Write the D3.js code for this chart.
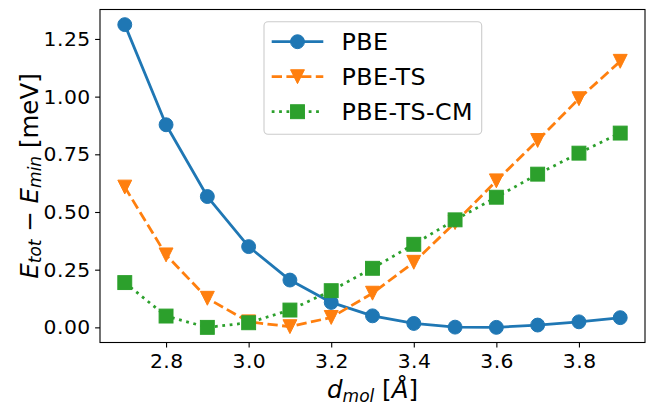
<!DOCTYPE html>
<html>
<head>
<meta charset="utf-8">
<script src="https://cdn.jsdelivr.net/npm/d3@7"></script>
<style>
  html, body { margin: 0; padding: 0; background: #fff; }
  svg { display: block; font-family: "DejaVu Sans", sans-serif; }
  .tick text { font-family: "DejaVu Sans", sans-serif; }
</style>
</head>
<body>
<svg id="chart" width="649" height="410"></svg>
<script>
const distances = [2.7, 2.8, 2.9, 3.0, 3.1, 3.2, 3.3, 3.4, 3.5, 3.6, 3.7, 3.8, 3.9];
const pbe       = [1.312, 0.878, 0.567, 0.350, 0.205, 0.108, 0.050, 0.017, 0.001, 0.000, 0.010, 0.024, 0.042];
const pbeTS     = [0.608, 0.314, 0.126, 0.024, 0.003, 0.043, 0.148, 0.282, 0.454, 0.635, 0.810, 0.991, 1.153];
const pbeTSCM   = [0.194, 0.049, 0.000, 0.020, 0.075, 0.159, 0.256, 0.360, 0.466, 0.564, 0.664, 0.755, 0.842];
const seriesNames = ["PBE", "PBE-TS", "PBE-TS-CM"];
const xTicks = [2.8, 3.0, 3.2, 3.4, 3.6, 3.8];
const yTicks = [0.00, 0.25, 0.50, 0.75, 1.00, 1.25];

const colors = ["#1f77b4", "#ff7f0e", "#2ca02c"];
const dashes = [null, "10.3,4.4", "2.8,4.6"];
const markers = ["circle", "triangle", "square"];
const seriesData = [pbe, pbeTS, pbeTSCM];

const svg = d3.select("#chart");
const L = 100, R = 645, T = 9.5, B = 342.5;

const xMin = d3.min(distances), xMax = d3.max(distances);
const allY = [].concat(pbe, pbeTS, pbeTSCM);
const yMin = d3.min(allY), yMax = d3.max(allY);
const xPad = (xMax - xMin) * 0.05, yPad = (yMax - yMin) * 0.05;

const x = d3.scaleLinear().domain([xMin - xPad, xMax + xPad]).range([L, R]);
const y = d3.scaleLinear().domain([yMin - yPad, yMax + yPad]).range([B, T]);

const lw = 2.78, ms = 13.9;
const tickFont = 20.3;

// axes
const xAxis = d3.axisBottom(x).tickValues(xTicks).tickFormat(d3.format(".1f")).tickSizeOuter(0).tickSize(4.9).tickPadding(4.9);
const yAxis = d3.axisLeft(y).tickValues(yTicks).tickFormat(d3.format(".2f")).tickSizeOuter(0).tickSize(4.9).tickPadding(4.9);

const gx = svg.append("g").attr("transform", `translate(0,${B})`).call(xAxis);
const gy = svg.append("g").attr("transform", `translate(${L},0)`).call(yAxis);
[gx, gy].forEach(g => {
  g.attr("font-family", null).attr("font-size", null);
  g.select(".domain").remove();
  g.selectAll(".tick line").attr("stroke", "#000").attr("stroke-width", 1.1);
  g.selectAll(".tick text").attr("fill", "#000")
    .style("font-size", tickFont + "px").style("letter-spacing", "0.5px");
});
gx.selectAll(".tick text").attr("dy", "0.75em").attr("dx", 0.25);
gy.selectAll(".tick text").attr("dx", 0.5);

const plot = svg.append("g");

function drawMarker(g, type, cx, cy, color, size) {
  const h = size / 2;
  let el;
  if (type === "circle") {
    el = g.append("circle").attr("cx", cx).attr("cy", cy).attr("r", h);
  } else if (type === "square") {
    el = g.append("rect").attr("x", cx - h).attr("y", cy - h).attr("width", size).attr("height", size);
  } else {
    el = g.append("path").attr("d", `M${cx},${cy + h}L${cx - h},${cy - h}L${cx + h},${cy - h}Z`);
  }
  el.attr("fill", color).attr("stroke", color).attr("stroke-width", 1.0).attr("stroke-linejoin", "miter");
}

seriesData.forEach((vals, i) => {
  const pts = distances.map((d, j) => [x(d), y(vals[j])]);
  const g = plot.append("g");
  g.append("path")
    .attr("d", d3.line()(pts))
    .attr("fill", "none")
    .attr("stroke", colors[i])
    .attr("stroke-width", lw)
    .attr("stroke-dasharray", dashes[i])
    .attr("stroke-linecap", dashes[i] ? "butt" : "square")
    .attr("stroke-linejoin", "round");
  pts.forEach(p => drawMarker(g, markers[i], p[0], p[1], colors[i], ms));
});

// frame
svg.append("rect").attr("x", L).attr("y", T).attr("width", R - L).attr("height", B - T)
  .attr("fill", "none").attr("stroke", "#000").attr("stroke-width", 1.1);

// legend
const leg = svg.append("g");
leg.append("rect").attr("x", 264).attr("y", 21.7).attr("width", 217.7).attr("height", 112.6)
  .attr("rx", 4).attr("ry", 4)
  .attr("fill", "#fff").attr("fill-opacity", 0.8)
  .attr("stroke", "#cccccc").attr("stroke-width", 1.1);
const rowY = [41.7, 76.7, 111.7];
seriesNames.forEach((name, i) => {
  leg.append("line").attr("x1", 271.7).attr("x2", 323.3).attr("y1", rowY[i]).attr("y2", rowY[i])
    .attr("stroke", colors[i]).attr("stroke-width", lw)
    .attr("stroke-dasharray", dashes[i]);
  drawMarker(leg, markers[i], 297.5, rowY[i], colors[i], ms);
  leg.append("text").attr("x", 341.5).attr("y", rowY[i]).attr("dy", "0.36em")
    .attr("font-size", 23.8).style("letter-spacing", "0.45px").attr("fill", "#000").text(name);
});

// x label
const xl = svg.append("text").attr("x", (L + R) / 2).attr("y", 398)
  .attr("text-anchor", "middle").attr("font-size", 24.5).attr("fill", "#000");
xl.append("tspan").attr("font-style", "italic").text("d");
xl.append("tspan").attr("font-style", "italic").attr("font-size", 17).attr("dy", 4).text("mol");
xl.append("tspan").attr("dy", -4).text(" [");
xl.append("tspan").attr("font-style", "italic").text("Å");
xl.append("tspan").text("]");

// y label
const yl = svg.append("text").attr("transform", `translate(38,${(T + B) / 2}) rotate(-90)`)
  .attr("text-anchor", "middle").attr("font-size", 24.5).attr("fill", "#000");
yl.append("tspan").attr("font-style", "italic").text("E");
yl.append("tspan").attr("font-style", "italic").attr("font-size", 17).attr("dy", 3).text("tot");
yl.append("tspan").attr("dy", -3).text(" − ");
yl.append("tspan").attr("font-style", "italic").text("E");
yl.append("tspan").attr("font-style", "italic").attr("font-size", 17).attr("dy", 3).text("min");
yl.append("tspan").attr("dy", -3).text(" [meV]");
</script>
</body>
</html>
